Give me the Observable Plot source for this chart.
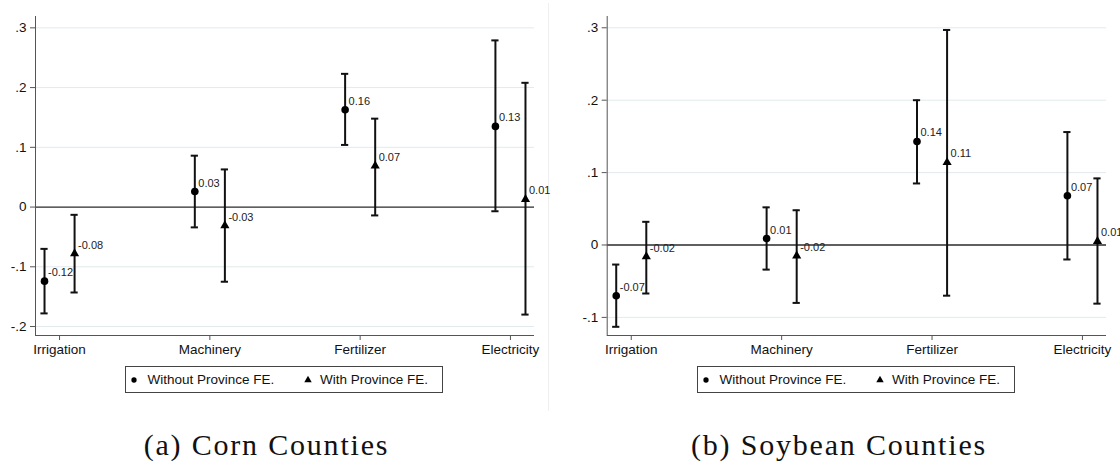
<!DOCTYPE html>
<html>
<head>
<meta charset="utf-8">
<script src="https://cdn.jsdelivr.net/npm/d3@7"></script>
<script src="https://cdn.jsdelivr.net/npm/@observablehq/plot@0.6"></script>
<style>
  html, body { margin: 0; padding: 0; background: #fff; }
  body { width: 1120px; height: 461px; position: relative; overflow: hidden; font-family: "Liberation Sans", Arial, sans-serif; }
  .panel { position: absolute; top: 0; }
  .legend { position: absolute; border: 1px solid #444; box-sizing: border-box; background: #fff; }
  .legend .item { position: absolute; top: 0; height: 100%; display: flex; align-items: center; font-size: 13.5px; color: #111; white-space: nowrap; }
  .legend svg { position: absolute; }
  .caption { position: absolute; font-family: "Liberation Serif", "Times New Roman", serif; font-size: 30px; line-height: 30px; letter-spacing: 1.8px; color: #111; white-space: nowrap; transform: translateX(-50%); }
  .sep { position: absolute; left: 548px; top: 3px; width: 1px; height: 408px; background: #efefef; }
</style>
</head>
<body>
<div class="sep"></div>
<div id="left" class="panel" style="left:0px"></div>
<div id="right" class="panel" style="left:560px"></div>
<script>
// ---------- data ----------
const categories = ["Irrigation", "Machinery", "Fertilizer", "Electricity"];
const series = ["Without Province FE.", "With Province FE."];

// Corn counties
const cornEstNoFE   = [-0.124, 0.026, 0.163, 0.135];
const cornLoNoFE    = [-0.178, -0.034, 0.104, -0.007];
const cornHiNoFE    = [-0.070, 0.086, 0.223, 0.279];
const cornLabNoFE   = ["-0.12", "0.03", "0.16", "0.13"];
const cornEstFE     = [-0.078, -0.031, 0.069, 0.013];
const cornLoFE      = [-0.143, -0.125, -0.014, -0.180];
const cornHiFE      = [-0.013, 0.063, 0.148, 0.208];
const cornLabFE     = ["-0.08", "-0.03", "0.07", "0.01"];

// Soybean counties
const soyEstNoFE    = [-0.070, 0.009, 0.143, 0.068];
const soyLoNoFE     = [-0.113, -0.034, 0.085, -0.020];
const soyHiNoFE     = [-0.027, 0.052, 0.200, 0.156];
const soyLabNoFE    = ["-0.07", "0.01", "0.14", "0.07"];
const soyEstFE      = [-0.016, -0.015, 0.114, 0.005];
const soyLoFE       = [-0.067, -0.080, -0.070, -0.081];
const soyHiFE       = [0.032, 0.048, 0.297, 0.092];
const soyLabFE      = ["-0.02", "-0.02", "0.11", "0.01"];

const cornTicks = [-0.2, -0.1, 0, 0.1, 0.2, 0.3];
const soyTicks  = [-0.1, 0, 0.1, 0.2, 0.3];
const captions  = ["(a) Corn Counties", "(b) Soybean Counties"];

// ---------- helpers ----------
const dodge = 0.1;           // horizontal offset between the two series (in category units)
const capHalf = 0.024;       // half width of CI caps (in category units)
const symbols = ["circle", "triangle"];

function buildRows(est0, lo0, hi0, lab0, est1, lo1, hi1, lab1) {
  const rows = [];
  categories.forEach((c, i) => {
    rows.push({cat: c, x: i + 1 - dodge, series: series[0], est: est0[i], lo: lo0[i], hi: hi0[i], label: lab0[i]});
    rows.push({cat: c, x: i + 1 + dodge, series: series[1], est: est1[i], lo: lo1[i], hi: hi1[i], label: lab1[i]});
  });
  return rows;
}

const yFmt = d => d === 0 ? "0" : (d < 0 ? "-" : "") + "." + Math.round(Math.abs(d) * 10);

function panel(rows, ticks, yDomain, marginLeft, marginRight) {
  const xDomain = [0.84, 4.16];
  const axisColor = "#555";
  return Plot.plot({
    width: 560,
    height: 360,
    marginLeft, marginRight,
    marginTop: 16,
    marginBottom: 25,
    style: {fontFamily: "'Liberation Sans', Arial, sans-serif", fontSize: "13.5px", color: "#111", background: "transparent", overflow: "visible"},
    x: {domain: xDomain},
    y: {domain: yDomain},
    marks: [
      Plot.gridY(ticks.filter(t => t !== 0), {stroke: "#e2eaed", strokeOpacity: 1, strokeWidth: 1}),
      Plot.ruleY([0], {stroke: "#2a2a2a", strokeWidth: 1.3}),
      Plot.ruleX([xDomain[0]], {stroke: axisColor, strokeWidth: 1}),
      Plot.ruleY([yDomain[0]], {stroke: axisColor, strokeWidth: 1}),
      Plot.axisY(ticks, {tickSize: 5, tickPadding: 4, tickFormat: yFmt, stroke: axisColor, fill: "#111", fontSize: 13.5, label: null}),
      Plot.axisX([1, 2, 3, 4], {tickSize: 5, tickPadding: 4, tickFormat: d => categories[d - 1], stroke: axisColor, fill: "#111", fontSize: 13.5, label: null}),
      // confidence intervals
      Plot.ruleX(rows, {x: "x", y1: "lo", y2: "hi", stroke: "#111", strokeWidth: 2}),
      Plot.ruleY(rows, {y: "lo", x1: d => d.x - capHalf, x2: d => d.x + capHalf, stroke: "#111", strokeWidth: 2}),
      Plot.ruleY(rows, {y: "hi", x1: d => d.x - capHalf, x2: d => d.x + capHalf, stroke: "#111", strokeWidth: 2}),
      // point estimates
      Plot.dot(rows.filter(d => d.series === series[0]), {x: "x", y: "est", symbol: () => symbols[0], r: 3.8, fill: "#000", stroke: "none"}),
      Plot.dot(rows.filter(d => d.series === series[1]), {x: "x", y: "est", symbol: () => symbols[1], r: 3.4, fill: "#000", stroke: "none"}),
      Plot.text(rows, {x: "x", y: "est", text: "label", dx: 3.5, dy: -8.5, textAnchor: "start", lineAnchor: "middle", fontSize: 11, fill: "#222"})
    ]
  });
}

const cornRows = buildRows(cornEstNoFE, cornLoNoFE, cornHiNoFE, cornLabNoFE, cornEstFE, cornLoFE, cornHiFE, cornLabFE);
const soyRows  = buildRows(soyEstNoFE, soyLoNoFE, soyHiNoFE, soyLabNoFE, soyEstFE, soyLoFE, soyHiFE, soyLabFE);

document.getElementById("left").appendChild(panel(cornRows, cornTicks, [-0.215, 0.319], 35, 26));
document.getElementById("right").appendChild(panel(soyRows, soyTicks, [-0.125, 0.3156], 46.7, 14));

// ---------- legends ----------
function legend(left) {
  const box = document.createElement("div");
  box.className = "legend";
  Object.assign(box.style, {left: left + "px", top: "366px", width: "318px", height: "27px"});
  const markerX = [8, 182];
  const textX = [21.5, 194];
  series.forEach((s, i) => {
    const svg = d3.create("svg").attr("width", 12).attr("height", 12)
      .style("left", (markerX[i] - 6) + "px").style("top", "7px");
    svg.append("path")
      .attr("transform", "translate(6,6)")
      .attr("d", d3.symbol(i === 0 ? d3.symbolCircle : d3.symbolTriangle, i === 0 ? 22 : 24)())
      .attr("fill", "#000");
    box.appendChild(svg.node());
    const t = document.createElement("div");
    t.className = "item";
    t.style.left = textX[i] + "px";
    t.textContent = s;
    box.appendChild(t);
  });
  document.body.appendChild(box);
}
legend(125);
legend(697);

// ---------- captions ----------
[[266.5, captions[0]], [839, captions[1]]].forEach(([cx, text]) => {
  const c = document.createElement("div");
  c.className = "caption";
  c.style.left = cx + "px";
  c.style.top = "430px";
  c.textContent = text;
  document.body.appendChild(c);
});
</script>
</body>
</html>
